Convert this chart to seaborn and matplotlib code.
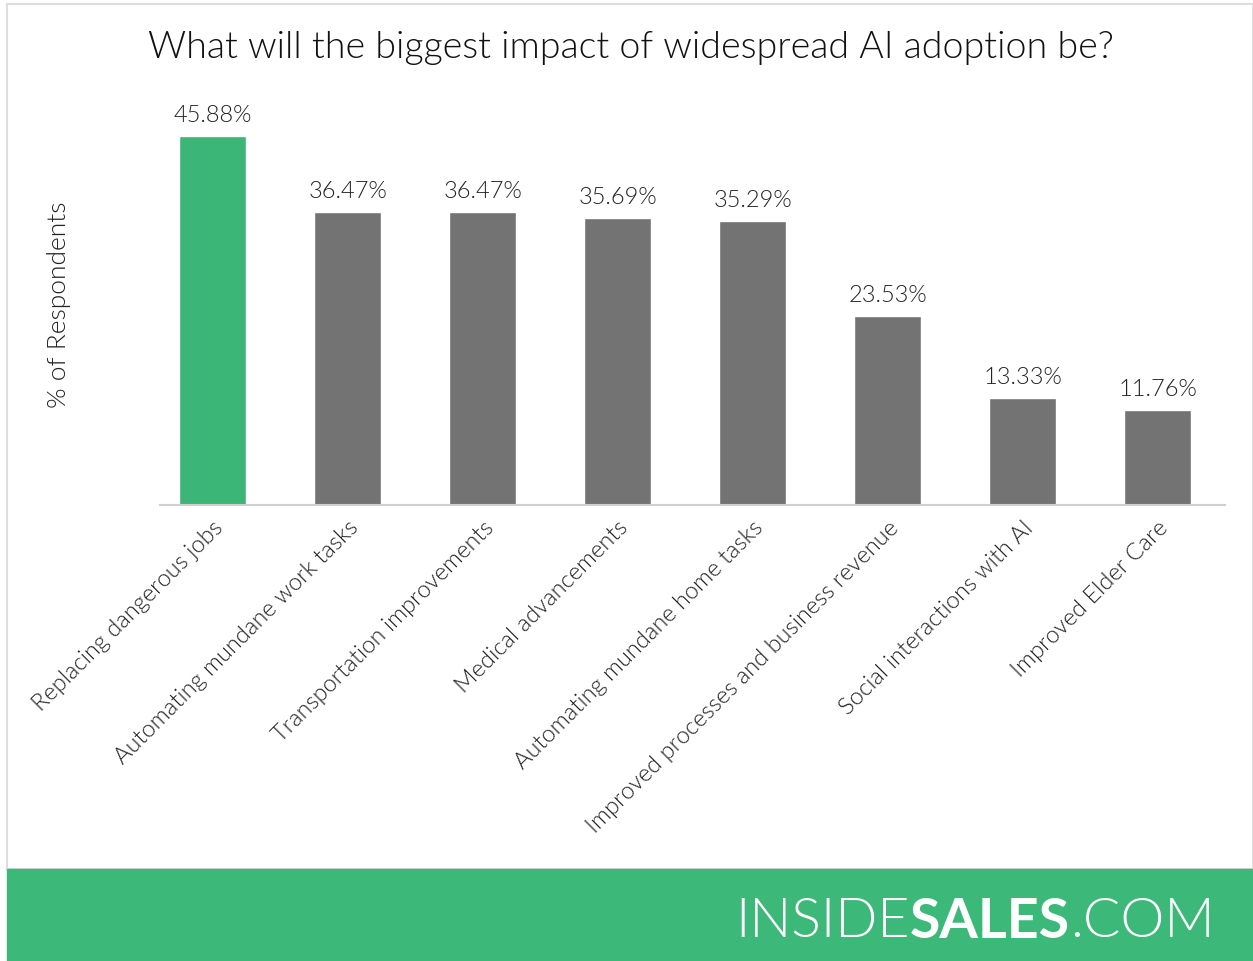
import matplotlib
matplotlib.use("Agg")
import matplotlib.pyplot as plt
import seaborn as sns
import pandas as pd
from matplotlib.patches import Rectangle

# data
impacts = [
    "Replacing dangerous jobs",
    "Automating mundane work tasks",
    "Transportation improvements",
    "Medical advancements",
    "Automating mundane home tasks",
    "Improved processes and business revenue",
    "Social interactions with AI",
    "Improved Elder Care",
]
percent = [45.88, 36.47, 36.47, 35.69, 35.29, 23.53, 13.33, 11.76]

green = "#3bb676"
grey = "#737373"
bar_colors = [green] + [grey] * (len(impacts) - 1)

df = pd.DataFrame({"impact": impacts, "pct": percent})

sns.set_style("white")
plt.rcParams["font.family"] = ["Lato", "DejaVu Sans"]
W = 300  # Lato Light

fig = plt.figure(figsize=(12.53, 9.62), dpi=100)

# light frame round the chart area
fig.patches.append(Rectangle((7 / 1253, 92 / 962), 1246 / 1253, 865 / 962,
                             transform=fig.transFigure, fill=False,
                             edgecolor="#dddddd", linewidth=1.5))
# green footer band
fig.patches.append(Rectangle((7 / 1253, 0), 1246 / 1253, 92 / 962,
                             transform=fig.transFigure, color="#3cb878"))

ax = fig.add_axes([160 / 1253, 1 - 506 / 962, 1065 / 1253, 402 / 962])
sns.barplot(data=df, x="impact", y="pct", hue="impact", palette=bar_colors,
            legend=False, width=0.5, saturation=1, ax=ax)

ax.set_ylim(0, 50)
ax.set_xlim(-0.39, len(impacts) - 0.5)
for s in ["top", "right", "left"]:
    ax.spines[s].set_visible(False)
ax.spines["bottom"].set_color("#d0d0d0")
ax.spines["bottom"].set_linewidth(1.5)
ax.set_yticks([])
ax.tick_params(axis="x", length=0, pad=8)
ax.set_xticks(range(len(impacts)))
ax.set_xticklabels(impacts, rotation=45, ha="right", rotation_mode="anchor",
                   fontsize=17, fontweight=W, color="#222222")
ax.set_xlabel("")
ax.set_ylabel("% of Respondents", fontsize=19, fontweight=W,
              color="#222222", labelpad=64)
ax.patch.set_alpha(0)

for i, v in enumerate(percent):
    ax.text(i, v + 1.4, f"{v:.2f}%", ha="center", va="bottom",
            fontsize=17, fontweight=W, color="#222222")

fig.text(631 / 1253, 1 - 48 / 962,
         "What will the biggest impact of widespread AI adoption be?",
         ha="center", va="center", fontsize=27, fontweight=W,
         color="#111111")

# footer logo
logo_y = 1 - 922 / 962
t1 = fig.text(735 / 1253, logo_y, "INSIDE", ha="left", va="center",
              fontsize=40, fontweight=W, color="white")
fig.canvas.draw()
r = fig.canvas.get_renderer()
x = t1.get_window_extent(r).x1
t2 = fig.text(x / 1253, logo_y, "SALES", ha="left", va="center",
              fontsize=40, fontweight="bold", color="white")
x = t2.get_window_extent(r).x1
fig.text(x / 1253, logo_y, ".COM", ha="left", va="center",
         fontsize=40, fontweight=W, color="white")

fig.savefig("out.png", dpi=100)
